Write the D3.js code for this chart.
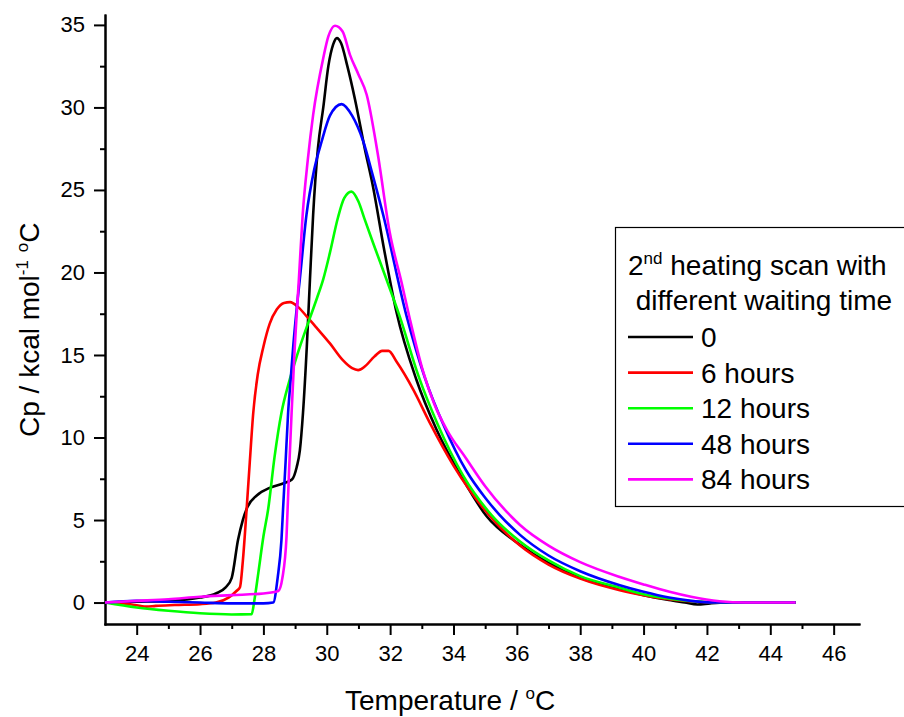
<!DOCTYPE html>
<html>
<head>
<meta charset="utf-8">
<script src="https://cdn.jsdelivr.net/npm/d3@7"></script>
<style>
  body { margin: 0; background: #fff; }
  text { font-family: "Liberation Sans", Arial, sans-serif; fill: #000; }
  .axis path, .axis line { stroke: #000; stroke-width: 2; }
  .axis text { font-size: 22px; font-family: "Liberation Sans", Arial, sans-serif; }
</style>
</head>
<body>
<div id="container"></div>
<script>
// waiting times (legend labels) and colours
var labels = ["0", "6 hours", "12 hours", "48 hours", "84 hours"];
var colors = ["#000000", "#ff0000", "#00ff00", "#0000ff", "#ff00ff"];

// 0 h
var temp0 = [23, 24, 25, 26, 26.5, 26.8, 27.0, 27.2, 27.35, 27.5, 27.8, 28.2, 28.6, 28.9, 29.05, 29.15, 29.25, 29.37, 29.47, 29.57, 29.72, 29.89, 30.05, 30.2, 30.32, 30.45, 30.65, 30.89, 31.2, 31.46, 31.8, 32.2, 32.83, 33.46, 34.3, 35.04, 36.1, 37.0, 38.0, 39.25, 40.0, 40.8, 41.3, 41.7, 42.1, 42.6, 44.8];
var cp0 = [0, 0.05, 0.1, 0.3, 0.55, 0.9, 1.5, 3.8, 5.0, 5.8, 6.5, 6.95, 7.2, 7.45, 8.2, 9.2, 11.5, 15.5, 19.6, 23.5, 27.5, 30.0, 32.5, 33.8, 34.2, 33.9, 32.5, 30.5, 27.5, 25.2, 21.5, 17.6, 13.5, 10.5, 7.46, 5.24, 3.5, 2.4, 1.5, 0.8, 0.45, 0.15, 0.0, -0.12, -0.05, 0, 0];

// 6 h
var temp6 = [23, 23.8, 24.3, 24.6, 25.2, 26.0, 26.5, 26.9, 27.15, 27.26, 27.35, 27.47, 27.57, 27.68, 27.82, 28.0, 28.2, 28.42, 28.65, 28.84, 29.1, 29.36, 29.7, 30.1, 30.5, 30.8, 30.99, 31.2, 31.5, 31.75, 31.95, 32.2, 32.73, 33.25, 34.0, 35.15, 36.1, 37.0, 38.0, 39.25, 40.0, 41.0, 42.0, 42.6, 44.8];
var cp6 = [0, -0.1, -0.25, -0.2, -0.15, -0.1, 0.0, 0.3, 0.7, 0.93, 2.5, 5.65, 8.5, 11.5, 13.8, 15.5, 16.9, 17.75, 18.15, 18.2, 17.9, 17.35, 16.6, 15.7, 14.7, 14.2, 14.08, 14.3, 14.9, 15.25, 15.25, 14.6, 12.9, 10.9, 8.3, 5.24, 3.45, 2.3, 1.45, 0.75, 0.45, 0.15, 0.02, 0, 0];

// 12 h
var temp12 = [23, 24, 25, 26, 27, 27.63, 27.72, 27.84, 28.0, 28.15, 28.35, 28.57, 28.8, 29.05, 29.47, 29.7, 29.89, 30.1, 30.35, 30.55, 30.78, 31.0, 31.2, 31.46, 31.9, 32.3, 32.9, 33.5, 34.3, 35.2, 36.1, 37.0, 38.0, 39.25, 40.0, 41.0, 42.0, 42.6, 44.8];
var cp12 = [0, -0.3, -0.5, -0.65, -0.72, -0.7, 0.2, 1.8, 4.0, 5.65, 8.8, 11.5, 13.3, 14.9, 17.25, 18.5, 19.6, 21.2, 23.3, 24.5, 24.9, 24.3, 23.2, 21.8, 19.5, 17.35, 13.7, 10.8, 7.7, 5.3, 3.7, 2.55, 1.6, 0.9, 0.5, 0.18, 0.03, 0, 0];

// 48 h
var temp48 = [23, 24, 25, 26, 27, 28, 28.31, 28.45, 28.57, 28.62, 28.7, 28.78, 28.86, 28.94, 29.05, 29.15, 29.36, 29.6, 29.84, 30.1, 30.47, 30.8, 31.15, 31.45, 31.78, 32.52, 33.1, 33.7, 34.4, 35.0, 35.46, 36.1, 37.0, 38.0, 39.25, 40.0, 40.8, 41.5, 42.2, 44.8];
var cp48 = [0, 0.1, 0.05, 0.0, -0.05, -0.05, 0.0, 1.5, 3.8, 5.65, 8.5, 11.5, 13.5, 15.5, 17.8, 19.6, 23.5, 26.2, 27.95, 29.5, 30.2, 29.5, 27.95, 25.9, 23.5, 17.35, 13.6, 10.7, 8.0, 6.35, 5.3, 4.1, 2.85, 1.9, 1.05, 0.65, 0.3, 0.1, 0, 0];

// 84 h
var temp84 = [23, 24, 25, 26, 27, 28, 28.47, 28.6, 28.73, 28.81, 28.89, 28.99, 29.12, 29.24, 29.4, 29.57, 29.89, 30.05, 30.26, 30.5, 30.73, 31.0, 31.26, 31.6, 31.99, 32.36, 32.62, 33.04, 33.4, 33.78, 34.41, 35.0, 35.83, 36.1, 37.0, 38.0, 39.25, 40.0, 40.82, 41.5, 42.4, 43.2, 44.8];
var cp84 = [0, 0.1, 0.2, 0.35, 0.45, 0.55, 0.7, 1.5, 4.0, 8.0, 11.5, 15.5, 19.6, 23.5, 26.8, 29.55, 33.0, 34.3, 34.95, 34.6, 33.2, 32.0, 30.77, 27.3, 22.4, 19.4, 17.2, 14.0, 12.0, 10.5, 8.7, 7.05, 5.2, 4.7, 3.45, 2.45, 1.55, 1.1, 0.65, 0.35, 0.08, 0, 0];

var xMajor = [24, 26, 28, 30, 32, 34, 36, 38, 40, 42, 44, 46];
var xMinor = [25, 27, 29, 31, 33, 35, 37, 39, 41, 43, 45];
var yMajor = [0, 5, 10, 15, 20, 25, 30, 35];
var yMinor = [2.5, 7.5, 12.5, 17.5, 22.5, 27.5, 32.5];

var temps = [temp0, temp6, temp12, temp48, temp84];
var cps = [cp0, cp6, cp12, cp48, cp84];

var width = 904;
var height = 717;

var svg = d3
  .select("#container")
  .append("svg")
  .attr("width", width)
  .attr("height", height);

var x = d3
  .scaleLinear()
  .domain([23, 46.8])
  .range([105, 859]);

var y = d3
  .scaleLinear()
  .domain([-1.3, 35.6])
  .range([624, 15]);

// minor ticks first, then major with labels
svg
  .append("g")
  .attr("class", "axis")
  .attr("transform", "translate(0,624)")
  .call(d3.axisBottom(x).tickValues(xMinor).tickSize(5).tickSizeOuter(0).tickFormat(""));

svg
  .append("g")
  .attr("class", "axis")
  .attr("transform", "translate(0,624)")
  .call(d3.axisBottom(x).tickValues(xMajor).tickSize(11).tickSizeOuter(0).tickPadding(10))
  .selectAll("text")
  .attr("dy", "0.71em");

svg
  .append("g")
  .attr("class", "axis")
  .attr("transform", "translate(105,0)")
  .call(d3.axisLeft(y).tickValues(yMinor).tickSize(5).tickSizeOuter(0).tickFormat(""));

svg
  .append("g")
  .attr("class", "axis")
  .attr("transform", "translate(105,0)")
  .call(d3.axisLeft(y).tickValues(yMajor).tickSize(11).tickSizeOuter(0).tickPadding(9));

svg.selectAll(".axis .domain").attr("stroke-linecap", "square");

// axis titles
var xt = svg
  .append("text")
  .attr("x", 345)
  .attr("y", 710)
  .style("font-size", "28px");
xt.append("tspan").text("Temperature / ");
xt.append("tspan").attr("dy", -11).style("font-size", "17px").text("o");
xt.append("tspan").attr("dy", 11).text("C");

var yt = svg
  .append("text")
  .attr("transform", "translate(39,437) rotate(-90)")
  .style("font-size", "28px");
yt.append("tspan").text("Cp / kcal mol");
yt.append("tspan").attr("dy", -11).style("font-size", "17px").text("-1");
yt.append("tspan").attr("dy", 11).text(" ");
yt.append("tspan").attr("dy", -11).style("font-size", "17px").text("o");
yt.append("tspan").attr("dy", 11).text("C");

// curves
var line = d3
  .line()
  .x(d => x(d[0]))
  .y(d => y(d[1]))
  .curve(d3.curveMonotoneX);

labels.forEach(function(lab, i) {
  var pts = temps[i].map((t, j) => [t, cps[i][j]]);
  svg
    .append("path")
    .datum(pts)
    .attr("fill", "none")
    .attr("stroke", colors[i])
    .attr("stroke-width", 2.6)
    .attr("stroke-linejoin", "round")
    .attr("d", line);
});

// legend
var legend = svg.append("g");

legend
  .append("rect")
  .attr("x", 615.5)
  .attr("y", 227.5)
  .attr("width", 320)
  .attr("height", 279)
  .attr("fill", "#fff")
  .attr("stroke", "#000")
  .attr("stroke-width", 1.2);

var t1 = legend
  .append("text")
  .attr("x", 628)
  .attr("y", 275)
  .style("font-size", "28px");
t1.append("tspan").text("2");
t1.append("tspan").attr("dy", -11).style("font-size", "17px").text("nd");
t1.append("tspan").attr("dy", 11).text(" heating scan with");

legend
  .append("text")
  .attr("x", 628)
  .attr("y", 310)
  .style("font-size", "28px")
  .style("white-space", "pre")
  .attr("xml:space", "preserve")
  .text(" different waiting time");

var items = legend
  .selectAll(".item")
  .data(labels)
  .enter()
  .append("g")
  .attr("class", "item")
  .attr("transform", (d, i) => "translate(0," + (337 + i * 35.6) + ")");

items
  .append("line")
  .attr("x1", 628)
  .attr("x2", 693)
  .attr("stroke", (d, i) => colors[i])
  .attr("stroke-width", 2.6);

items
  .append("text")
  .attr("x", 701)
  .attr("y", 10)
  .style("font-size", "28px")
  .text(d => d);
</script>
</body>
</html>
